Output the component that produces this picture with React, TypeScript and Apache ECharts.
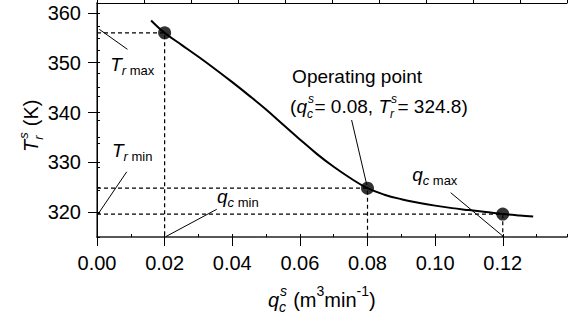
import React, { useEffect, useRef } from "react";
import * as echarts from "echarts";

// ---- data ----
const curveQ = [0.016, 0.02, 0.025, 0.03, 0.035, 0.04, 0.045, 0.05, 0.055, 0.06, 0.065, 0.07, 0.075, 0.08, 0.085, 0.09, 0.095, 0.1, 0.105, 0.11, 0.115, 0.12, 0.125, 0.129];
const curveT = [358.5, 356.0, 353.6, 351.2, 348.7, 346.1, 343.4, 340.6, 337.6, 334.6, 331.7, 329.1, 326.8, 324.8, 323.5, 322.6, 321.9, 321.3, 320.8, 320.4, 320.0, 319.6, 319.3, 319.1];
const pointQ = [0.02, 0.08, 0.12];
const pointT = [356.0, 324.8, 319.6];
const xTicks = [0, 0.02, 0.04, 0.06, 0.08, 0.1, 0.12];
const yTicks = [320, 330, 340, 350, 360];
const X_MIN = 0;
const X_MAX = 0.139;
const Y_MIN = 315;
const Y_MAX = 362;

// leader lines (data coordinates): start q, start T, end q, end T
const leaderQ1 = [0.0007, 0.0007, 0.0203, 0.0753, 0.12];
const leaderT1 = [356.7, 320.0, 315.06, 338.5, 315.2];
const leaderQ2 = [0.009, 0.0088, 0.0354, 0.0798, 0.1046];
const leaderT2 = [352.7, 328.1, 320.56, 325.44, 323.9];

// annotation text anchors (left, baseline) in data coordinates
const annoQ = [0.0039, 0.0044, 0.0355, 0.0932, 0.0577, 0.0571];
const annoT = [348.3, 331.1, 321.8, 326.3, 345.9, 339.9];

const FONT = '"Liberation Sans", Arial, sans-serif';

type Tok = { t?: string; k: string; sup?: string; sub?: string };

let ctx: CanvasRenderingContext2D | null = null;
function measure(text: string, fs: number, italic: boolean) {
  if (!ctx) ctx = document.createElement("canvas").getContext("2d");
  if (!ctx) return text.length * fs * 0.55;
  ctx.font = `${italic ? "italic " : ""}${fs}px "Liberation Sans"`;
  return ctx.measureText(text).width;
}

function mk(t: string, x: number, base: number, size: number, it: boolean) {
  return {
    type: "text",
    x,
    y: base - 0.3465 * size,
    silent: true,
    style: {
      text: t,
      fontSize: size,
      fontFamily: FONT,
      fontStyle: it ? "italic" : "normal",
      fill: "#000",
      align: "left",
      verticalAlign: "middle",
    },
  };
}

function layout(tokens: Tok[], fs: number, sfs: number, supDy: number, subDy: number) {
  let x = 0;
  const els: any[] = [];
  for (const tk of tokens) {
    if (tk.k === "n" || tk.k === "i") {
      els.push(mk(tk.t!, x, 0, fs, tk.k === "i"));
      x += measure(tk.t!, fs, tk.k === "i");
    } else if (tk.k === "sub" || tk.k === "subi") {
      els.push(mk(tk.t!, x, subDy, sfs, tk.k === "subi"));
      x += measure(tk.t!, sfs, tk.k === "subi");
    } else if (tk.k === "sup" || tk.k === "supi") {
      els.push(mk(tk.t!, x, supDy, sfs, tk.k === "supi"));
      x += measure(tk.t!, sfs, tk.k === "supi");
    } else if (tk.k === "ss") {
      els.push(mk(tk.sup!, x + 1, supDy, sfs, true));
      els.push(mk(tk.sub!, x, subDy, sfs, true));
      x += Math.max(measure(tk.sup!, sfs, true) + 1, measure(tk.sub!, sfs, true)) + 0.5;
    }
  }
  return els;
}

const labelTokens: Tok[][] = [
  [{ t: "T", k: "i" }, { t: "r", k: "subi" }, { t: " max", k: "sub" }],
  [{ t: "T", k: "i" }, { t: "r", k: "subi" }, { t: " min", k: "sub" }],
  [{ t: "q", k: "i" }, { t: "c", k: "subi" }, { t: " min", k: "sub" }],
  [{ t: "q", k: "i" }, { t: "c", k: "subi" }, { t: " max", k: "sub" }],
  [{ t: "Operating point", k: "n" }],
  [
    { t: "(", k: "n" },
    { t: "q", k: "i" },
    { k: "ss", sup: "s", sub: "c" },
    { t: "= 0.08, ", k: "n" },
    { t: "T", k: "i" },
    { k: "ss", sup: "s", sub: "r" },
    { t: "= 324.8)", k: "n" },
  ],
];

const xNameTokens: Tok[] = [
  { t: "q", k: "i" },
  { k: "ss", sup: "s", sub: "c" },
  { t: " (m", k: "n" },
  { t: "3", k: "sup" },
  { t: "min", k: "n" },
  { t: "-1", k: "sup" },
  { t: ")", k: "n" },
];
const yNameTokens: Tok[] = [
  { t: "T", k: "i" },
  { k: "ss", sup: "s", sub: "r" },
  { t: " (K)", k: "n" },
];

export default function App() {
  const ref = useRef<HTMLDivElement>(null);
  useEffect(() => {
    document.body.style.margin = "0";
    if (!ref.current) return;
    const chart = echarts.init(ref.current, undefined, { renderer: "svg" });

    const dashed: any[] = [];
    pointQ.forEach((q, i) => {
      dashed.push({
        type: "line",
        xAxisIndex: 0,
        yAxisIndex: 0,
        data: [
          [X_MIN, pointT[i]],
          [q, pointT[i]],
          [q, Y_MIN],
        ],
        symbol: "none",
        silent: true,
        z: 1,
        lineStyle: { color: "#000", width: 1.2, type: [4, 3] },
      });
    });
    const leaders: any[] = leaderQ1.map((q, i) => ({
      type: "line",
      xAxisIndex: 0,
      yAxisIndex: 0,
      data: [
        [q, leaderT1[i]],
        [leaderQ2[i], leaderT2[i]],
      ],
      symbol: "none",
      silent: true,
      z: 2,
      lineStyle: { color: "#000", width: 1 },
    }));

    chart.setOption({
      animation: false,
      grid: { left: 97, right: 6, top: 3, bottom: 83, show: false },
      xAxis: [
        {
          type: "value",
          min: X_MIN,
          max: X_MAX,
          interval: 0.02,
          position: "bottom",
          axisLine: { show: true, lineStyle: { color: "#222", width: 1.5 } },
          axisTick: { show: true, inside: false, length: 9, customValues: xTicks, lineStyle: { color: "#000", width: 1 } },
          axisLabel: {
            customValues: xTicks,
            formatter: (v: number) => v.toFixed(2),
            fontSize: 20,
            fontFamily: FONT,
            color: "#000",
            margin: 16,
          },
          splitLine: { show: false },
        },
        {
          type: "value",
          min: X_MIN,
          max: X_MAX,
          interval: 0.01,
          position: "bottom",
          axisLine: { show: false },
          axisTick: { show: true, inside: true, length: 3, lineStyle: { color: "#000", width: 1 } },
          axisLabel: { show: false },
          splitLine: { show: false },
        },
        {
          type: "value",
          min: 0,
          max: 10,
          interval: 1,
          position: "top",
          axisLine: { show: true, lineStyle: { color: "#000", width: 1 } },
          axisTick: { show: true, inside: false, length: 3, lineStyle: { color: "#000", width: 1 } },
          axisLabel: { show: false },
          splitLine: { show: false },
        },
      ],
      yAxis: [
        {
          type: "value",
          min: Y_MIN,
          max: Y_MAX,
          interval: 5,
          position: "left",
          axisLine: { show: true, lineStyle: { color: "#777", width: 2 } },
          axisTick: { show: true, inside: false, length: 9, customValues: yTicks, lineStyle: { color: "#000", width: 1 } },
          axisLabel: {
            customValues: yTicks,
            fontSize: 20,
            fontFamily: FONT,
            color: "#000",
            margin: 16,
          },
          splitLine: { show: false },
        },
        {
          type: "value",
          min: Y_MIN,
          max: Y_MAX,
          interval: 5,
          position: "left",
          axisLine: { show: false },
          axisTick: { show: true, inside: true, length: 3, lineStyle: { color: "#000", width: 1 } },
          axisLabel: { show: false },
          splitLine: { show: false },
        },
        {
          type: "value",
          min: 0,
          max: 10,
          interval: 1,
          position: "right",
          axisLine: { show: true, lineStyle: { color: "#000", width: 1 } },
          axisTick: { show: true, inside: false, length: 3, lineStyle: { color: "#000", width: 1 } },
          axisLabel: { show: false },
          splitLine: { show: false },
        },
      ],
      series: [
        ...dashed,
        ...leaders,
        {
          type: "line",
          xAxisIndex: 0,
          yAxisIndex: 0,
          data: curveQ.map((q, i) => [q, curveT[i]]),
          smooth: 0.4,
          symbol: "none",
          z: 3,
          lineStyle: { color: "#000", width: 2 },
        },
        {
          type: "scatter",
          xAxisIndex: 0,
          yAxisIndex: 0,
          data: pointQ.map((q, i) => [q, pointT[i]]),
          symbol: "circle",
          symbolSize: 13,
          z: 4,
          itemStyle: { color: "#000" },
        },
      ],
    });

    const toPx = (q: number, t: number) =>
      chart.convertToPixel({ xAxisIndex: 0, yAxisIndex: 0 }, [q, t]) as number[];

    const groups: any[] = labelTokens.map((toks, i) => {
      const p = toPx(annoQ[i], annoT[i]);
      const stacked = i === 5;
      return {
        type: "group",
        x: p[0],
        y: p[1],
        children: stacked ? layout(toks, 19, 12, -9.5, 5) : layout(toks, 19, 13, -9, 4),
      };
    });

    const grid0 = toPx(X_MIN, Y_MIN);
    const grid1 = toPx(X_MAX, Y_MAX);
    groups.push({
      type: "group",
      x: 268,
      y: grid0[1] + 70,
      children: layout(xNameTokens, 20, 14, -11, 5),
    });
    groups.push({
      type: "group",
      x: 38,
      y: (grid0[1] + grid1[1]) / 2 + 32,
      rotation: Math.PI / 2,
      children: layout(yNameTokens, 20, 13, -10, 5),
    });

    chart.setOption({ graphic: groups });

    return () => chart.dispose();
  }, []);
  return <div ref={ref} style={{ width: 573, height: 320 }} />;
}
